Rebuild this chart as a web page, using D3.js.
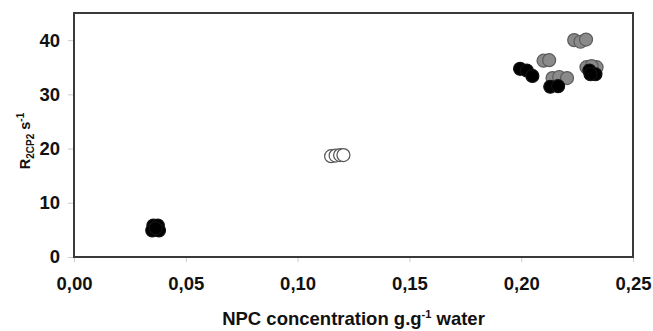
<!DOCTYPE html>
<html>
<head>
<meta charset="utf-8">
<script src="https://cdn.jsdelivr.net/npm/d3@7"></script>
<style>
  body { margin: 0; background: #fff; }
  text { font-family: "Liberation Sans", Arial, sans-serif; font-weight: bold; fill: #111; }
</style>
</head>
<body>
<div id="chart"></div>
<script>
//////////////////////////////////////////////////////////////
//////////////////////// Data ////////////////////////////////
//////////////////////////////////////////////////////////////

// open circles
const openX = [0.115, 0.117, 0.119, 0.1205]
const openY = [18.6, 18.7, 18.8, 18.8]

// grey circles
const greyX = [0.2100, 0.2125, 0.2237, 0.2265, 0.2290, 0.2140, 0.2170, 0.2205, 0.2292, 0.2337, 0.2315]
const greyY = [36.2, 36.3, 40.0, 39.7, 40.1, 33.0, 33.2, 33.0, 35.0, 35.0, 35.2]

// black circles
const blackX = [0.0355, 0.0375, 0.0350, 0.0380, 0.0365,
                0.1995, 0.2025, 0.2050, 0.2130, 0.2165, 0.2305, 0.2332, 0.2310]
const blackY = [5.8, 5.8, 4.9, 4.9, 5.3,
                34.7, 34.4, 33.4, 31.4, 31.5, 34.4, 33.7, 33.7]

const xTicks = [0, 0.05, 0.10, 0.15, 0.20, 0.25]
const yTicks = [0, 10, 20, 30, 40]

//////////////////////////////////////////////////////////////
//////////////////////// Create SVG //////////////////////////
//////////////////////////////////////////////////////////////

const W = 653, H = 331
const margin = { left: 74, top: 13, right: 20, bottom: 74 }
const width = W - margin.left - margin.right
const height = H - margin.top - margin.bottom
const dotRadius = 6.5

const svg = d3.select("#chart").append("svg")
    .attr("width", W)
    .attr("height", H)

const g = svg.append("g")
    .attr("transform", `translate(${margin.left},${margin.top})`)

const x = d3.scaleLinear().domain([0, 0.25]).range([0, width])
const y = d3.scaleLinear().domain([0, 45]).range([height, 0])

//////////////////////////////////////////////////////////////
//////////////////////// Axes ////////////////////////////////
//////////////////////////////////////////////////////////////

const fmt = d => d3.format(".2f")(d).replace(".", ",")

const xAxis = g.append("g")
    .attr("transform", `translate(0,${height})`)
    .call(d3.axisBottom(x).tickValues(xTicks).tickSize(5).tickPadding(15).tickFormat(fmt))
const yAxis = g.append("g")
    .call(d3.axisLeft(y).tickValues(yTicks).tickSize(6).tickPadding(8))

;[xAxis, yAxis].forEach(a => {
    a.select(".domain").remove()
    a.selectAll(".tick line").attr("stroke", "#ccc")
    a.selectAll(".tick text")
        .style("font-size", "18.5px")
        .style("font-family", "Liberation Sans, Arial, sans-serif")
        .style("font-weight", "bold")
        .attr("fill", "#111")
})

//frame
g.append("rect")
    .attr("width", width)
    .attr("height", height)
    .attr("fill", "none")
    .attr("stroke", "#3a3a3a")
    .attr("stroke-width", 2)

//////////////////////////////////////////////////////////////
//////////////////////// Points //////////////////////////////
//////////////////////////////////////////////////////////////

function drawSeries(xs, ys, fill, stroke) {
    g.append("g").selectAll("circle")
        .data(xs.map((d, i) => [d, ys[i]]))
        .enter().append("circle")
        .attr("cx", d => x(d[0]))
        .attr("cy", d => y(d[1]))
        .attr("r", dotRadius)
        .attr("fill", fill)
        .attr("stroke", stroke)
        .attr("stroke-width", 1.2)
}

drawSeries(openX, openY, "#fff", "#555")
drawSeries(greyX, greyY, "#8a8a8a", "#5c5c5c")
drawSeries(blackX, blackY, "#000", "#111")

//////////////////////////////////////////////////////////////
//////////////////////// Titles //////////////////////////////
//////////////////////////////////////////////////////////////

const xTitle = svg.append("text")
    .attr("x", margin.left + width / 2)
    .attr("y", 325)
    .attr("text-anchor", "middle")
    .style("font-size", "18.5px")
xTitle.append("tspan").text("NPC concentration g.g")
xTitle.append("tspan").attr("dy", -7).style("font-size", "11px").text("-1")
xTitle.append("tspan").attr("dy", 7).text(" water")

const yTitle = svg.append("text")
    .attr("transform", `translate(30,${margin.top + height / 2 + 6}) rotate(-90)`)
    .attr("text-anchor", "middle")
    .style("font-size", "14.5px")
yTitle.append("tspan").text("R")
yTitle.append("tspan").attr("dy", 4).style("font-size", "10px").text("2CP2")
yTitle.append("tspan").attr("dy", -4).text(" s")
yTitle.append("tspan").attr("dy", -6).style("font-size", "10px").text("-1")
</script>
</body>
</html>
